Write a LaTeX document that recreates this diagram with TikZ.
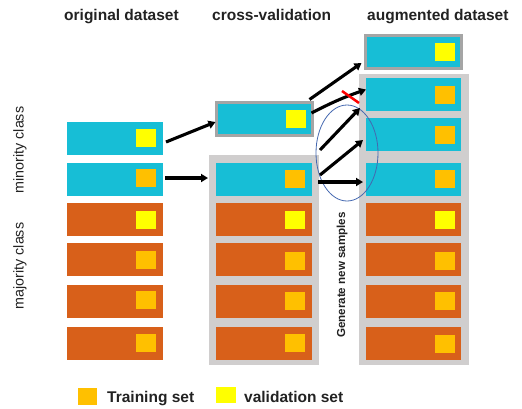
\documentclass[tikz,border=0pt]{standalone}
\usepackage{fontspec}
\setmainfont{Liberation Sans}
\usetikzlibrary{shapes.geometric,arrows.meta,calc}
\definecolor{cy}{RGB}{23,190,214}
\definecolor{br}{RGB}{216,96,26}
\definecolor{sq}{RGB}{255,192,0}
\definecolor{ye}{RGB}{255,255,0}
\definecolor{gr}{RGB}{208,206,206}
\definecolor{dg}{RGB}{165,165,165}
\definecolor{el}{RGB}{68,104,176}
\definecolor{tx}{RGB}{34,34,34}
\begin{document}
\begin{tikzpicture}[x=1pt,y=-1pt,
  box/.style={minimum width=96pt,minimum height=33pt,inner sep=0pt,outer sep=0pt},
  mino/.style={box,fill=cy},
  majo/.style={box,fill=br},
  trn/.style={minimum width=20pt,minimum height=18pt,inner sep=0pt,fill=sq},
  val/.style={trn,fill=ye},
  bgbox/.style={fill=gr,inner sep=0pt,outer sep=0pt},
  arr/.style={line width=3.1pt,draw=black,-{Triangle[length=7pt,width=8pt]}},
  title/.style={font=\fontsize{15.5}{16}\selectfont\bfseries,text=tx,inner sep=0pt,anchor=base west},
  side/.style={font=\fontsize{14.3}{15}\selectfont,text=tx,inner sep=0pt,rotate=90},
]
\useasboundingbox (0,0) rectangle (522,408);

% titles
\node[title] (t1) at (64,20.5) {original dataset};
\node[title] (t2) at (212,20.5) {cross-validation};
\node[title] (t3) at (367,20.5) {augmented dataset};

% side labels
\node[side] (lmin) at (20,150) {minority class};
\node[side] (lmaj) at (20,266) {majority class};

% backgrounds
\node[bgbox,minimum width=110pt,minimum height=210pt] (bg2) at (264,260) {};
\node[bgbox,minimum width=110pt,minimum height=291pt] (bg3) at (414,219.5) {};

% column 1
\node[mino] (c1a) at (115,138.5) {};
\node[mino] (c1b) at (115,179) {};
\node[majo] (c1c) at (115,219) {};
\node[majo] (c1d) at (115,259) {};
\node[majo] (c1e) at (115,301) {};
\node[majo] (c1f) at (115,343.5) {};
\node[val] (s1a) at (146,138) {};
\node[trn] (s1b) at (146,178) {};
\node[val] (s1c) at (146,220) {};
\node[trn] (s1d) at (146,260) {};
\node[trn] (s1e) at (146,300) {};
\node[trn] (s1f) at (146,343) {};

% column 2
\node[mino,draw=dg,line width=3pt] (up2) at (264.5,119) {};
\node[val] (sup2) at (295.5,119) {};
\node[mino] (c2b) at (264,179) {};
\node[majo] (c2c) at (264,219) {};
\node[majo] (c2d) at (264,259) {};
\node[majo] (c2e) at (264,301) {};
\node[majo] (c2f) at (264,343.5) {};
\node[trn] (s2b) at (295,179) {};
\node[val] (s2c) at (295,220) {};
\node[trn] (s2d) at (295,261) {};
\node[trn] (s2e) at (295,301) {};
\node[trn] (s2f) at (295,343) {};

% column 3
\node[mino,draw=dg,line width=3pt] (top3) at (413.5,52) {};
\node[val] (stop3) at (445,52) {};
\node[mino,minimum width=95pt] (c3a) at (413.5,94.5) {};
\node[mino,minimum width=95pt] (c3b) at (413.5,134.5) {};
\node[mino,minimum width=95pt] (c3c) at (413.5,179) {};
\node[majo,minimum width=95pt] (c3d) at (413.5,219) {};
\node[majo,minimum width=95pt] (c3e) at (413.5,259) {};
\node[majo,minimum width=95pt] (c3f) at (413.5,301) {};
\node[majo,minimum width=95pt] (c3g) at (413.5,343.5) {};
\node[trn] (s3a) at (445,95) {};
\node[trn] (s3b) at (445,135) {};
\node[trn] (s3c) at (445,179) {};
\node[val] (s3d) at (445,220) {};
\node[trn] (s3e) at (445,261) {};
\node[trn] (s3f) at (445,301) {};
\node[trn] (s3g) at (445,344) {};

% ellipse and its label
\node[ellipse,draw=el,line width=0.8pt,minimum width=62pt,minimum height=96pt,inner sep=0pt] (ell) at (347,153) {};
\node[font=\fontsize{11.6}{12}\selectfont\bfseries,text=tx,inner sep=0pt,rotate=90] (gen) at (342,275) {Generate new samples};

% arrows
\draw[arr] ($(c1a.east)+(3,3.5)$) -- ($(up2.west)+(-1,3)$);
\draw[arr] ($(c1b.east)+(2,-1)$) -- ($(c2b.west)+(-8,-1)$);
\draw[arr] ($(up2.north east)+(-3,-3)$) -- ($(top3.west)+(-4,11)$);
\draw[arr] ($(up2.east)+(-1,-6)$) to[bend left=4] ($(c3a.west)+(0,-5)$);
\coordinate (g1) at (320,150);
\coordinate (g2) at (320,175);
\draw[arr] (g1) -- ($(c3a.south west)+(-6,-3)$);
\draw[arr] (g2) -- ($(c3b.west)+(-3,5.5)$);
\draw[arr] ($(c2b.east)+(6,3)$) -- ($(c3c.west)+(-3,3)$);

% red cross mark
\coordinate (r1) at (342,91);
\coordinate (r2) at (359,103);
\draw[red,line width=2.5pt] (r1) -- (r2);

% legend
\node[trn,minimum width=19pt,minimum height=17pt] (lt) at (87.5,396.5) {};
\node[title] (ltt) at (107,402) {Training set};
\node[val,minimum width=20pt,minimum height=16pt] (lv) at (226,395) {};
\node[title] (lvt) at (244,402) {validation set};
\end{tikzpicture}
\end{document}
